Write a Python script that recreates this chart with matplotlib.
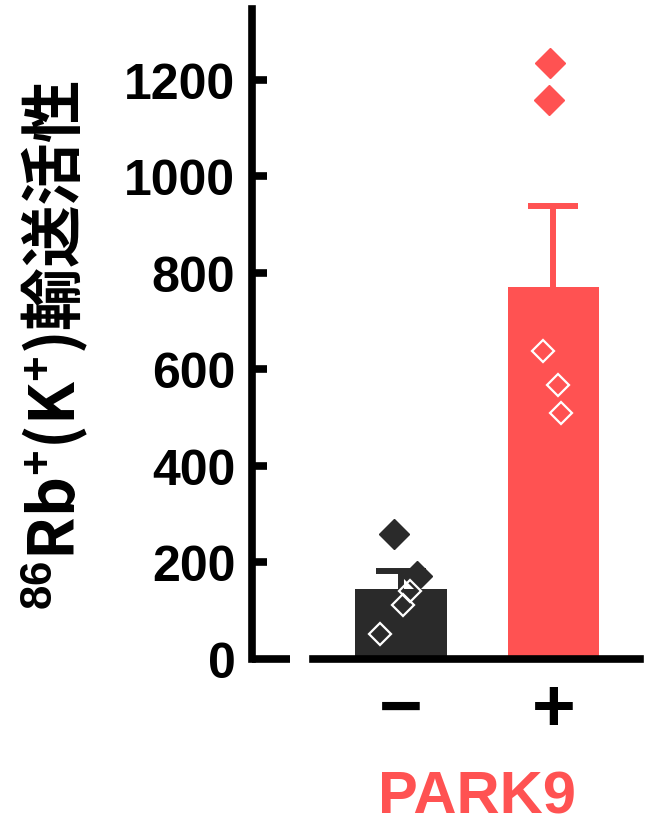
import numpy as np
import matplotlib
matplotlib.use("Agg")
import matplotlib.pyplot as plt
import matplotlib.transforms as mtransforms

plt.rcParams['font.family'] = ['Liberation Sans', 'Noto Sans CJK JP', 'DejaVu Sans']
plt.rcParams['font.weight'] = 'bold'
plt.rcParams['mathtext.fontset'] = 'custom'
plt.rcParams['mathtext.rm'] = 'Liberation Sans:bold'
plt.rcParams['mathtext.bf'] = 'Liberation Sans:bold'

# grupos
grupos = ["\u2212", "+"]
medias = [145, 771]
erros = [37, 168]
cores = ["#2a2a2a", "#ff5252"]

# pontos individuais (preenchidos e vazados) de cada grupo
cheios = [[259, 172], [1235, 1159]]
vazios = [[141, 112, 52], [638, 568, 510]]
# deslocamento horizontal dos pontos
jit_cheios = [[-0.05, 0.105], [-0.02, -0.026]]
jit_vazios = [[0.06, 0.013, -0.14], [-0.07, 0.03, 0.05]]

yticks = [0, 200, 400, 600, 800, 1000, 1200]

fig = plt.figure(figsize=(6.46, 8.29), dpi=100)
ax = fig.add_axes([252/646, 1 - 660/829, (640-252)/646, 650/829])

x = np.arange(len(grupos))
ax.bar(x, medias, width=0.6, color=cores, zorder=2)
for i in range(len(grupos)):
    _, caps, _ = ax.errorbar(x[i], medias[i], yerr=[[0], [erros[i]]], ecolor=cores[i],
                             elinewidth=4.3, capsize=18, capthick=4.3, fmt="none", zorder=3)
    caps[0].set_visible(False)  # so a barra de cima
    ax.plot(x[i] + np.array(jit_cheios[i]), cheios[i], linestyle="none",
            marker="D", markersize=15, color=cores[i], zorder=4)
    ax.plot(x[i] + np.array(jit_vazios[i]), vazios[i], linestyle="none",
            marker="D", markersize=11.5, markerfacecolor="none",
            markeredgecolor="white", markeredgewidth=1.6, zorder=4)

ax.set_xlim(-0.98, 1.57)
ax.set_ylim(0, 1347)
ax.set_yticks(yticks)
ax.set_yticklabels([str(t) for t in yticks])
ax.set_xticks(x)
ax.set_xticklabels(grupos)

for s in ["top", "right"]:
    ax.spines[s].set_visible(False)
ax.spines["left"].set_linewidth(5.5)
ax.spines["bottom"].set_linewidth(5.5)
ax.spines["bottom"].set_bounds(-0.58, 1.57)
ax.spines["left"].set_capstyle("projecting")

ax.tick_params(axis="y", direction="in", length=11, width=5.5, pad=12,
               labelsize=36)
ax.tick_params(axis="x", length=0, pad=12, labelsize=54)
for lab in ax.get_yticklabels() + ax.get_xticklabels():
    lab.set_fontweight("bold")

# tick do zero mais comprido
ax.yaxis.get_major_ticks()[0].tick1line.set_markersize(27)

fig.text(55/646, 1 - 345/829, r"$^{86}$Rb$^{+}$(K$^{+}$)輸送活性",
         rotation=90, ha="center", va="center", fontsize=45,
         fontweight="bold", family=["Noto Sans CJK JP"])

trans = mtransforms.blended_transform_factory(ax.transData, fig.transFigure)
ax.text(0.5, 1 - 814/829, "PARK9", transform=trans, ha="center", va="baseline",
        fontsize=43, fontweight="bold", color="#ff5252")

fig.savefig("out.png", dpi=100)
